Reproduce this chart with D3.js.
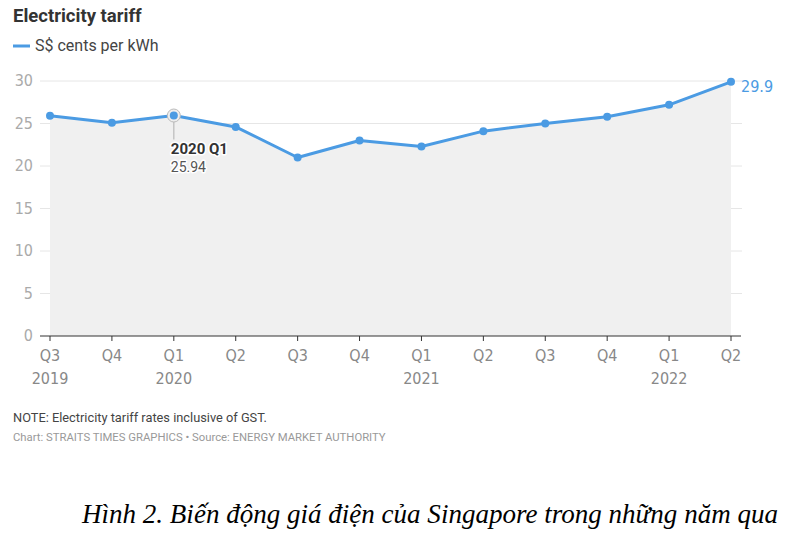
<!DOCTYPE html>
<html><head><meta charset="utf-8">
<script src="https://cdn.jsdelivr.net/npm/d3@7"></script>
<style>body{margin:0;background:#fff}</style>
</head><body>
<svg id="c" width="806" height="546"></svg>
<script>
const quarters = ["Q3","Q4","Q1","Q2","Q3","Q4","Q1","Q2","Q3","Q4","Q1","Q2"];
const years = ["2019","","2020","","","","2021","","","","2022",""];
const values = [25.9,25.1,25.94,24.6,21.0,23.0,22.3,24.1,25.0,25.8,27.2,29.9];
const yTicks = [0,5,10,15,20,25,30];

const svg = d3.select("#c");
const blue = "#4b9be3";
const cond = "'Liberation Sans Narrow','DejaVu Sans Condensed',sans-serif";
const x = d3.scaleLinear().domain([0, values.length-1]).range([50, 731]);
const y = d3.scaleLinear().domain([0,30]).range([336, 81]);

svg.append("text").attr("x",13).attr("y",22).attr("font-family","Roboto,sans-serif")
  .attr("font-weight","bold").attr("font-size",18.5).attr("fill","#333").text("Electricity tariff");
svg.append("line").attr("x1",13).attr("x2",30).attr("y1",46).attr("y2",46)
  .attr("stroke",blue).attr("stroke-width",3);
svg.append("text").attr("x",35).attr("y",51).attr("font-family","Roboto,sans-serif")
  .attr("font-size",16).attr("fill","#444").text("S$ cents per kWh");

// grid
const g = svg.append("g");
g.selectAll("line.grid").data(yTicks.filter(d=>d>0)).join("line")
  .attr("x1",40).attr("x2",742).attr("y1",d=>y(d)).attr("y2",d=>y(d))
  .attr("stroke","#e6e6e6").attr("stroke-width",1);
g.selectAll("text.yl").data(yTicks).join("text")
  .attr("x",33).attr("y",d=>y(d)+5).attr("text-anchor","end")
  .attr("font-family",cond).attr("font-size",16).attr("fill","#aaa").text(d=>d);

// area
const area = d3.area().x((d,i)=>x(i)).y0(y(0)).y1(d=>y(d));
svg.append("path").datum(values).attr("d",area).attr("fill","#f0f0f0");

// x axis
const xa = svg.append("g").attr("transform",`translate(0,${y(0)})`);
xa.append("line").attr("x1",40).attr("x2",741).attr("stroke","#333").attr("stroke-width",1);
xa.selectAll("line.t").data(values).join("line").attr("x1",(d,i)=>x(i)).attr("x2",(d,i)=>x(i))
  .attr("y1",0).attr("y2",5).attr("stroke","#333");
xa.selectAll("text.q").data(quarters).join("text").attr("x",(d,i)=>x(i)).attr("y",25)
  .attr("text-anchor","middle").attr("font-family",cond).attr("font-size",16).attr("fill","#888").text(d=>d);
xa.selectAll("text.yr").data(years).join("text").attr("x",(d,i)=>x(i)).attr("y",48)
  .attr("text-anchor","middle").attr("font-family",cond).attr("font-size",16).attr("fill","#888").text(d=>d);

// line
const line = d3.line().x((d,i)=>x(i)).y(d=>y(d));
svg.append("path").datum(values).attr("d",line).attr("fill","none")
  .attr("stroke",blue).attr("stroke-width",3).attr("stroke-linejoin","round");

// annotation
const ai = 2;
svg.append("line").attr("x1",x(ai)).attr("x2",x(ai)).attr("y1",y(values[ai])+6).attr("y2",y(values[ai])+24)
  .attr("stroke","#bbb").attr("stroke-width",1.2);
svg.append("circle").attr("cx",x(ai)).attr("cy",y(values[ai])).attr("r",6.5)
  .attr("fill","#eee").attr("stroke","#bbb").attr("stroke-width",1);

svg.selectAll("circle.p").data(values).join("circle").attr("cx",(d,i)=>x(i)).attr("cy",d=>y(d))
  .attr("r",4).attr("fill",blue);

const halo = (sel)=>sel.attr("stroke","#fff").attr("stroke-width",3).attr("paint-order","stroke").attr("stroke-linejoin","round");
svg.append("text").attr("x",x(ai)-3).attr("y",154).attr("font-family","Roboto,sans-serif")
  .attr("font-weight","bold").attr("font-size",15).attr("fill","#333").call(halo)
  .text(years[ai]+" "+quarters[ai]);
svg.append("text").attr("x",x(ai)-3).attr("y",172).attr("font-family","Roboto,sans-serif")
  .attr("font-size",14).attr("fill","#555").call(halo).text(values[ai].toFixed(2));

const li = values.length-1;
svg.append("text").attr("x",x(li)+10).attr("y",y(values[li])+10).attr("font-family",cond)
  .attr("font-size",16).attr("fill",blue).text(values[li]);

svg.append("text").attr("x",13).attr("y",422).attr("font-family","Roboto,sans-serif")
  .attr("font-size",12.8).attr("fill","#444").text("NOTE: Electricity tariff rates inclusive of GST.");
svg.append("text").attr("x",13).attr("y",441).attr("font-family","Roboto,sans-serif")
  .attr("font-size",11.3).attr("fill","#999").text("Chart: STRAITS TIMES GRAPHICS • Source: ENERGY MARKET AUTHORITY");

svg.append("text").attr("x",82).attr("y",523)
  .attr("font-family","'Liberation Serif',serif").attr("font-style","italic")
  .attr("font-size",27).attr("textLength",696).attr("lengthAdjust","spacingAndGlyphs")
  .attr("fill","#000").text("Hình 2. Biến động giá điện của Singapore trong những năm qua");
</script>
</body></html>
